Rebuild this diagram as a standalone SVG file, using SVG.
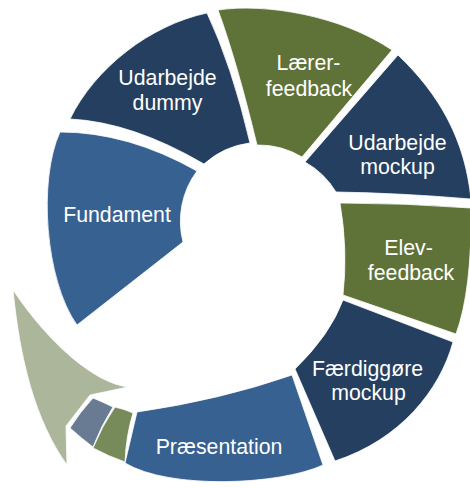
<svg xmlns="http://www.w3.org/2000/svg" width="470" height="488" viewBox="0 0 470 488">
<style>
.seg{stroke:#ffffff;stroke-width:0.8;stroke-linejoin:round}
.navy{fill:#243f60}
.blue{fill:#376191}
.olive{fill:#5f7339}
.gray{fill:#687b93}
.sgreen{fill:#778a59}
.light{fill:#abb69a}
.lbl{font-family:"Liberation Sans",Arial,sans-serif;font-size:21.3px;fill:#ffffff;text-anchor:middle}
</style>
<rect width="470" height="488" fill="#ffffff"/>
<g id="fundament">
<path class="seg blue" d="M60,132 Q128,132 197,171 A84,84 0 0 0 183,242 L77,325 C45,280 38,180 60,132 Z"/>
<text class="lbl" x="117" y="222">Fundament</text>
</g>
<g id="udarbejde-dummy">
<path class="seg navy" d="M70,119 C95,68 150,25 207,13 Q232,66 250,143 A84,84 0 0 0 204,164 Q132,122 70,119 Z"/>
<text class="lbl" x="167.5" y="85">Udarbejde</text>
<text class="lbl" x="167.5" y="110">dummy</text>
</g>
<g id="laerer-feedback">
<path class="seg olive" d="M218,10 C265,3 340,15 392,50 L302,157 A84,84 0 0 0 257,145 Q237,62 218,10 Z"/>
<text class="lbl" x="308.5" y="70">Lærer-</text>
<text class="lbl" x="309" y="96">feedback</text>
</g>
<g id="udarbejde-mockup">
<path class="seg navy" d="M398,55 C440,95 465,140 471,199 Q400,193 336,192 A84,84 0 0 0 305,162 Z"/>
<text class="lbl" x="397.5" y="150">Udarbejde</text>
<text class="lbl" x="397.5" y="174">mockup</text>
</g>
<g id="elev-feedback">
<path class="seg olive" d="M340,203 Q405,203 471,208 Q472,290 456,334 L343,295 Q348,250 340,203 Z"/>
<text class="lbl" x="408.5" y="255">Elev-</text>
<text class="lbl" x="411" y="280">feedback</text>
</g>
<g id="faerdiggoere-mockup">
<path class="seg navy" d="M343,300 L453,342 C440,390 400,440 335,461 L295,369 Q330,335 343,300 Z"/>
<text class="lbl" x="367.5" y="376">Færdiggøre</text>
<text class="lbl" x="368.5" y="400">mockup</text>
</g>
<g id="praesentation">
<path class="seg blue" d="M292,375 L323,465 C280,485 170,490 125,463 L137,412 Q220,400 292,375 Z"/>
<text class="lbl" x="219" y="454">Præsentation</text>
</g>
<g id="segment-green">
<path class="seg sgreen" d="M115,407 Q124,409 133,413 Q126,436 125,462 Q108,456 93,448 Q102,426 115,407 Z"/>
</g>
<g id="segment-gray">
<path class="seg gray" d="M93,398 Q103,402 113,407 Q101,426 93,447 Q81,438 70,428 Q80,412 93,398 Z"/>
</g>
<g id="arrow">
<path class="seg light" d="M13,290 C20,360 35,420 67,465 L66,426 L90,395 L128,387 C95,383 50,345 13,290 Z"/>
</g>
<g id="connectors"></g>
</svg>
